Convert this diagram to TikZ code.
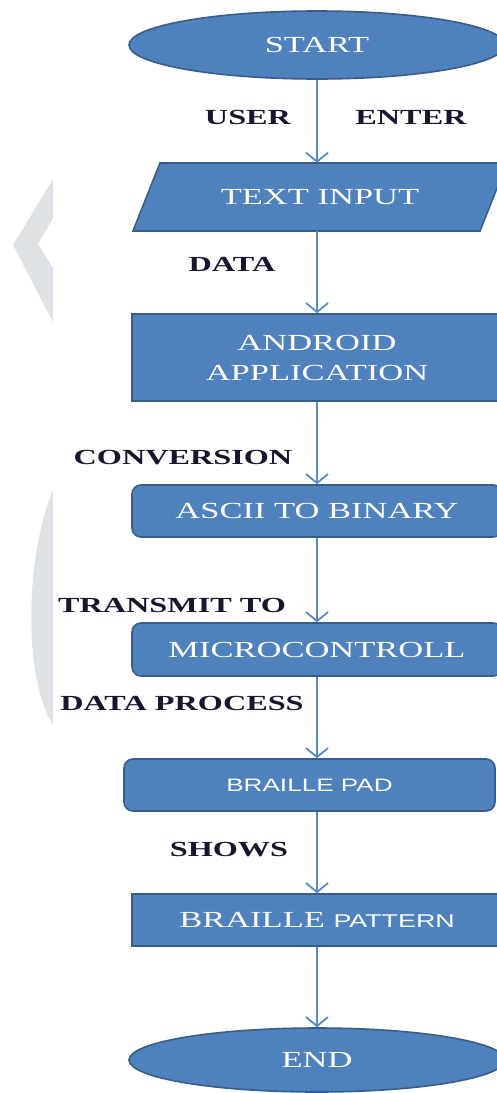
\documentclass[tikz,border=0pt]{standalone}
\usepackage{fontspec}
\usetikzlibrary{shapes.geometric,arrows.meta}
\newfontfamily\boxfont[FakeStretch=1.5]{Liberation Serif}
\newfontfamily\sansboxfont[FakeStretch=1.45]{Liberation Sans}
\definecolor{flowfill}{HTML}{4F81BD}
\definecolor{flowedge}{HTML}{385D8A}
\definecolor{flowline}{HTML}{5A8AC6}
\definecolor{labelink}{HTML}{16162E}
\definecolor{markgrey}{HTML}{DCE2E6}
\tikzset{
  blockbase/.style={fill=flowfill, draw=flowedge, line width=1.6pt, inner sep=0pt,
    text=white, font=\boxfont\fontsize{23}{29}\selectfont, align=center},
  terminal/.style={blockbase, ellipse, minimum width=376pt, minimum height=68pt},
  iotext/.style={rectangle, inner sep=0pt, text=white,
    font=\boxfont\fontsize{23}{29}\selectfont, minimum width=374pt, minimum height=68pt},
  ioshape/.style={fill=flowfill, draw=flowedge, line width=1.6pt, line join=miter},
  procbox/.style={blockbase, rectangle, minimum width=370pt},
  roundbox/.style={procbox, rounded corners=9pt},
  flowlabel/.style={text=labelink, font=\boxfont\bfseries\fontsize{21.5}{26}\selectfont, inner sep=0pt},
  flowarrow/.style={draw=flowline, line width=1.8pt, -{Straight Barb[length=9pt,width=22pt,line width=1.8pt]}}
}
\begin{document}
\begin{tikzpicture}[x=1pt,y=-1pt]
  \useasboundingbox (0,0) rectangle (497,1093);
  \clip (0,0) rectangle (497,1093);
  \fill[white] (0,0) rectangle (497,1093);

  % faint background marks at the left margin
  \fill[markgrey] (53,179) -- (13,245) -- (53,322) -- (53,268) -- (38,244) -- (53,218) -- cycle;
  \fill[markgrey] (53,490) .. controls (24,560) and (24,680) .. (53,725) -- cycle;

  % flow blocks
  \node[terminal] (start) at (317,45) {START};

  % input/output block: slanted outline behind its text node
  \filldraw[ioshape] (133,231) -- (160,163) -- (507,163) -- (480,231) -- cycle;
  \node[iotext] (tin) at (320,197) {TEXT INPUT};

  \node[procbox, minimum height=87pt] (app) at (317,357.5) {ANDROID\\[1pt]APPLICATION};
  \node[roundbox, minimum height=52pt] (conv) at (317,511) {ASCII TO BINARY};
  \node[roundbox, minimum height=53pt] (mcu) at (317,649.5) {MICROCONTROLL};
  \node[roundbox, minimum width=371pt, minimum height=52pt,
        font=\sansboxfont\fontsize{18}{22}\selectfont] (pad) at (309.5,785) {BRAILLE PAD};
  \node[procbox, minimum height=52pt] (pat) at (317,920)
        {BRAILLE {\sansboxfont\fontsize{18.5}{22}\selectfont PATTERN}};
  \node[terminal, minimum height=64pt] (stop) at (317,1060) {END};

  % connectors
  \draw[flowarrow] (start.south) -- (start.south |- tin.north);
  \draw[flowarrow] (start.south |- tin.south) -- (app.north);
  \draw[flowarrow] (app.south) -- (conv.north);
  \draw[flowarrow] (conv.south) -- (mcu.north);
  \draw[flowarrow] (mcu.south) -- (mcu.south |- pad.north);
  \draw[flowarrow] (mcu.south |- pad.south) -- (pat.north);
  \draw[flowarrow] (pat.south) -- (stop.north);

  % connector labels
  \node[flowlabel] (luser) at (248,117) {USER};
  \node[flowlabel] (lenter) at (411,117) {ENTER};
  \node[flowlabel] (ldata) at (232,264) {DATA};
  \node[flowlabel] (lconv) at (183,458) {CONVERSION};
  \node[flowlabel] (ltx) at (172,605) {TRANSMIT TO};
  \node[flowlabel] (lproc) at (182,703) {DATA PROCESS};
  \node[flowlabel] (lshow) at (229,850) {SHOWS};
\end{tikzpicture}
\end{document}
